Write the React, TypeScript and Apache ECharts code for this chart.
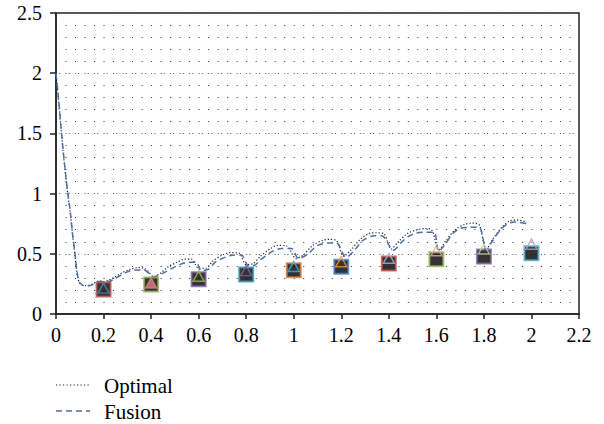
import React, { useEffect, useRef } from "react";
import * as echarts from "echarts";

const xTicks = [0, 0.2, 0.4, 0.6, 0.8, 1, 1.2, 1.4, 1.6, 1.8, 2, 2.2];
const yTicks = [0, 0.5, 1, 1.5, 2, 2.5];
const legendNames = ["Optimal", "Fusion"];

const optimal: [number, number][] = [
  [0, 2.0], [0.01, 1.79], [0.02, 1.57], [0.03, 1.35], [0.045, 1.07], [0.06, 0.84], [0.07, 0.65], [0.08, 0.48], [0.09, 0.32], [0.1, 0.255], [0.12, 0.235], [0.14, 0.24], [0.16, 0.255], [0.18, 0.275], [0.2, 0.27],
  [0.22, 0.28], [0.25, 0.31], [0.28, 0.345], [0.31, 0.37], [0.34, 0.385], [0.37, 0.38], [0.39, 0.35], [0.41, 0.31],
  [0.44, 0.34], [0.47, 0.39], [0.51, 0.43], [0.54, 0.455], [0.57, 0.455], [0.6, 0.38],
  [0.63, 0.38], [0.66, 0.44], [0.7, 0.49], [0.73, 0.51], [0.77, 0.505], [0.8, 0.41],
  [0.83, 0.42], [0.86, 0.48], [0.9, 0.54], [0.93, 0.57], [0.97, 0.565], [1.01, 0.46],
  [1.04, 0.49], [1.08, 0.57], [1.12, 0.61], [1.15, 0.62], [1.18, 0.61], [1.21, 0.48],
  [1.24, 0.53], [1.28, 0.62], [1.32, 0.67], [1.35, 0.675], [1.38, 0.665], [1.41, 0.54],
  [1.44, 0.6], [1.48, 0.67], [1.52, 0.7], [1.55, 0.71], [1.58, 0.7], [1.61, 0.53],
  [1.64, 0.61], [1.68, 0.7], [1.72, 0.745], [1.75, 0.755], [1.78, 0.74], [1.81, 0.54],
  [1.84, 0.63], [1.88, 0.73], [1.91, 0.775], [1.94, 0.78], [1.97, 0.77], [1.98, 0.765],
];

const fusion: [number, number][] = [
  [0, 2.0], [0.01, 1.8], [0.02, 1.58], [0.03, 1.36], [0.045, 1.08], [0.06, 0.85], [0.07, 0.66], [0.08, 0.5], [0.09, 0.33], [0.1, 0.26], [0.12, 0.235], [0.14, 0.235], [0.16, 0.25], [0.18, 0.27], [0.2, 0.27],
  [0.22, 0.27], [0.24, 0.285], [0.27, 0.32], [0.3, 0.35], [0.33, 0.365], [0.37, 0.365], [0.39, 0.34], [0.41, 0.31],
  [0.44, 0.33], [0.48, 0.37], [0.52, 0.41], [0.56, 0.43], [0.59, 0.43], [0.61, 0.36],
  [0.64, 0.37], [0.67, 0.43], [0.71, 0.47], [0.75, 0.49], [0.78, 0.49], [0.81, 0.4],
  [0.83, 0.4], [0.86, 0.45], [0.91, 0.52], [0.95, 0.545], [0.99, 0.545], [1.02, 0.46],
  [1.06, 0.5], [1.1, 0.57], [1.15, 0.59], [1.18, 0.59], [1.22, 0.47],
  [1.26, 0.54], [1.29, 0.61], [1.34, 0.65], [1.37, 0.65], [1.42, 0.53],
  [1.45, 0.59], [1.48, 0.64], [1.51, 0.67], [1.55, 0.68], [1.59, 0.68], [1.61, 0.52],
  [1.63, 0.56], [1.67, 0.67], [1.7, 0.71], [1.74, 0.72], [1.78, 0.72], [1.81, 0.53],
  [1.83, 0.59], [1.87, 0.7], [1.9, 0.75], [1.93, 0.765], [1.98, 0.75],
];

const markerX = [0.2, 0.4, 0.6, 0.8, 1.0, 1.2, 1.4, 1.6, 1.8, 2.0];
const squareValues = [0.204, 0.246, 0.289, 0.328, 0.364, 0.392, 0.419, 0.455, 0.477, 0.504];
const triangleValues = [0.215, 0.258, 0.314, 0.36, 0.395, 0.434, 0.463, 0.525, 0.54, 0.58];

const squareColors = ["#b5524f", "#8fae5a", "#7e60a0", "#2e9cb0", "#e07b30", "#4f81bd", "#c0504d", "#9bbb59", "#8064a2", "#4bacc6"];
const triangleColors = ["#5b7fb5", "#d98080", "#9bbb59", "#8064a2", "#4bacc6", "#f79646", "#a5b6d6", "#e6a5a5", "#c3d69b", "#b3a2c7"];

const FONT = "Liberation Serif, Times New Roman, serif";
const OPT_COLOR = "#222";
const FUS_COLOR = "#4a6fa8";

export default function App() {
  const ref = useRef<HTMLDivElement>(null);
  useEffect(() => {
    if (!ref.current) return;
    const chart = echarts.init(ref.current, undefined, { renderer: "svg" });
    const gridLeft = 56;
    const gridWidth = 523;
    const colStep = (gridWidth / 2.2) * 0.04;
    const legendStyles = [
      { stroke: OPT_COLOR, lineWidth: 1.2, lineDash: [1.2, 2.3] },
      { stroke: FUS_COLOR, lineWidth: 1.5, lineDash: [6, 4] },
    ];
    const legendY = [385, 411];
    chart.setOption({
      animation: false,
      backgroundColor: "#fff",
      textStyle: { fontFamily: FONT },
      grid: { left: gridLeft, top: 13, width: gridWidth, height: 301, show: true, borderColor: "#222", borderWidth: 1.5, backgroundColor: "transparent" },
      graphic: legendNames.flatMap((name, i) => [
        {
          type: "line",
          shape: { x1: 56, y1: legendY[i], x2: 90, y2: legendY[i] },
          style: legendStyles[i],
        },
        {
          type: "text",
          x: 104,
          y: legendY[i] + 1,
          style: { text: name, fontFamily: FONT, fontSize: 21, fill: "#000", verticalAlign: "middle", align: "left" },
        },
      ]),
      xAxis: {
        type: "value",
        min: 0,
        max: 2.2,
        interval: 0.2,
        axisLine: { show: true, lineStyle: { color: "#222", width: 1.5 } },
        axisTick: { show: true, length: 5, lineStyle: { color: "#222", width: 1.5 } },
        axisLabel: {
          fontFamily: FONT,
          fontSize: 20,
          color: "#000",
          margin: 11,
          formatter: (v: number) => {
            const t = xTicks.find((x) => Math.abs(x - v) < 1e-6);
            return t === undefined ? "" : String(t);
          },
        },
        splitLine: { show: false },
      },
      yAxis: {
        type: "value",
        min: 0,
        max: 2.5,
        interval: 0.5,
        axisLine: { show: true, lineStyle: { color: "#222", width: 1.5 } },
        axisTick: { show: true, length: 6, lineStyle: { color: "#222", width: 1.5 } },
        axisLabel: {
          fontFamily: FONT,
          fontSize: 20,
          color: "#000",
          margin: 14,
          formatter: (v: number) => {
            const t = yTicks.find((y) => Math.abs(y - v) < 1e-6);
            return t === undefined ? "" : String(t);
          },
        },
        splitLine: { show: true, lineStyle: { color: "#555", width: 1, type: [1, 2.2, 1, colStep - 4.2] } },
        minorTick: { show: false, splitNumber: 5 },
        minorSplitLine: { show: true, lineStyle: { color: "#333", width: 1, type: [1, colStep - 1] } },
      },
      series: [
        {
          name: "Optimal",
          type: "line",
          data: optimal,
          symbol: "none",
          smooth: 0.3,
          color: OPT_COLOR,
          lineStyle: { color: OPT_COLOR, width: 1.2, type: [1.2, 2] },
          z: 3,
        },
        {
          name: "Fusion",
          type: "line",
          data: fusion,
          symbol: "none",
          smooth: 0.3,
          color: FUS_COLOR,
          lineStyle: { color: FUS_COLOR, width: 1.5, type: [6, 4] },
          z: 4,
        },
        {
          name: "square",
          type: "scatter",
          symbol: "rect",
          symbolSize: 14,
          z: 5,
          data: markerX.map((x, i) => ({
            value: [x, squareValues[i]],
            itemStyle: { color: "#000", borderColor: squareColors[i], borderWidth: 2 },
          })),
        },
        {
          name: "triangle",
          type: "scatter",
          symbol: "triangle",
          symbolSize: [11, 10],
          z: 6,
          data: markerX.map((x, i) => ({
            value: [x, triangleValues[i]],
            itemStyle: {
              color: i === 1 ? triangleColors[i] : "rgba(0,0,0,0)",
              borderColor: triangleColors[i],
              borderWidth: 1.5,
            },
          })),
        },
      ],
    });
    return () => chart.dispose();
  }, []);
  return <div ref={ref} style={{ width: 604, height: 424, position: "absolute", left: 0, top: 0 }} />;
}
